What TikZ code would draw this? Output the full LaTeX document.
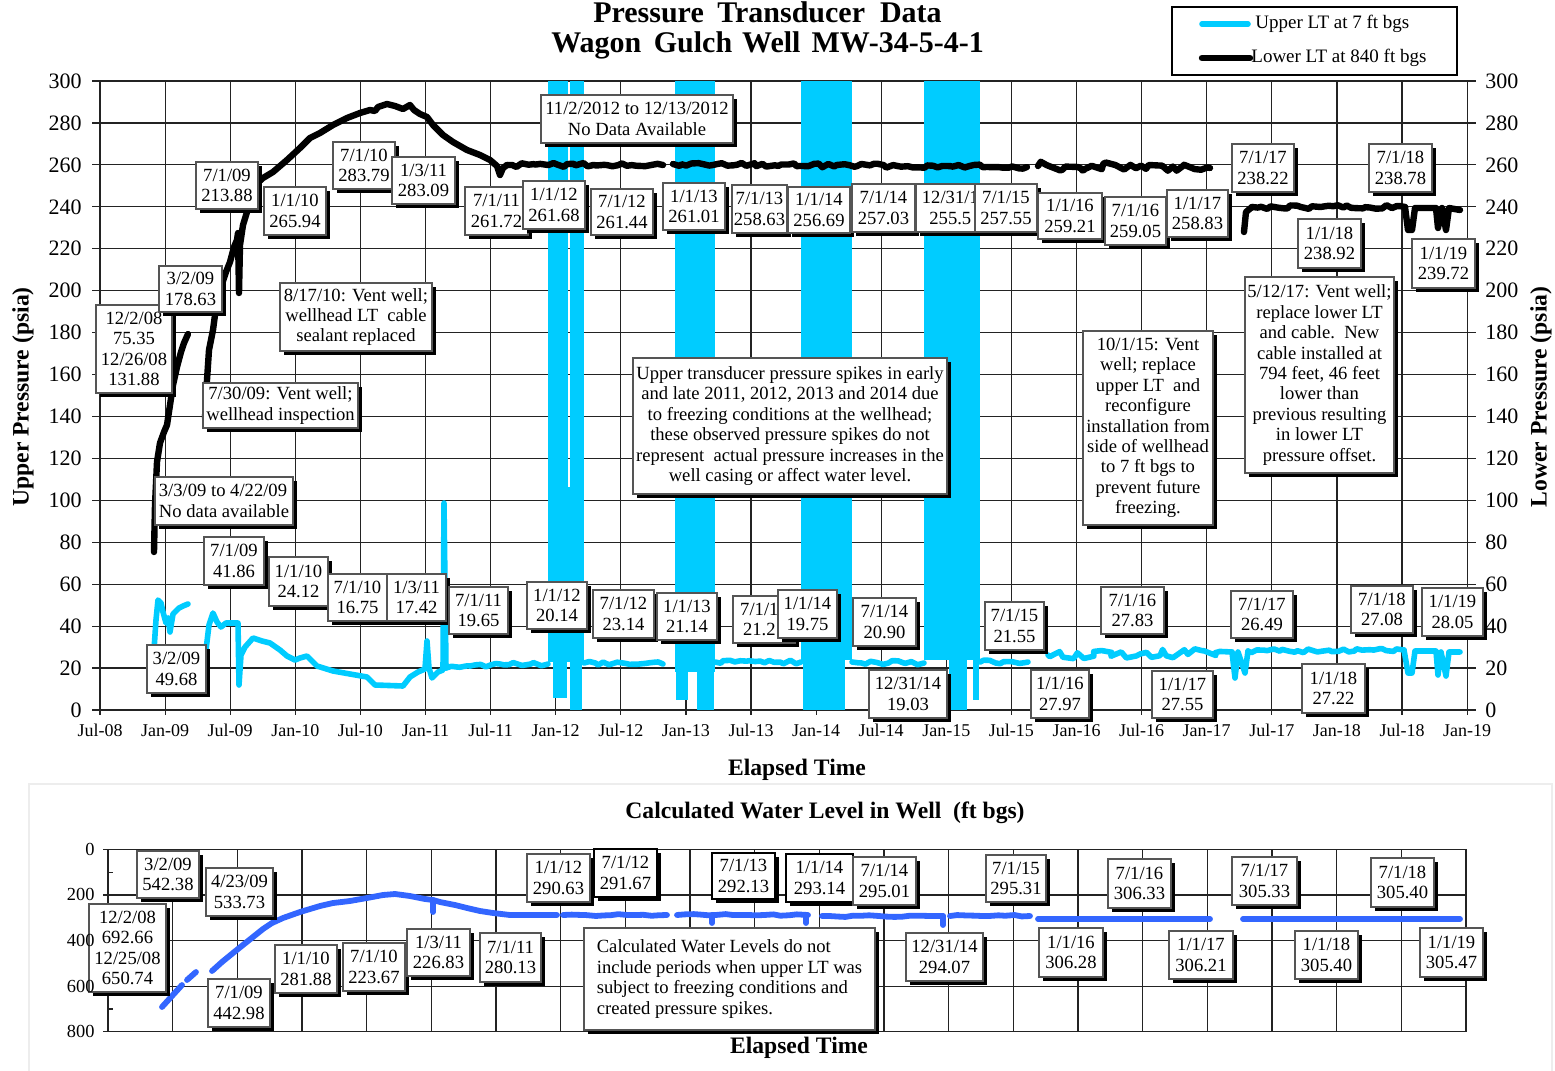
\documentclass[tikz,border=0pt]{standalone}
\usepackage{fontspec}
\setmainfont{Liberation Serif}
\usetikzlibrary{shadows,decorations.pathmorphing}
\definecolor{cyanl}{RGB}{0,204,255}
\definecolor{bluel}{RGB}{51,102,255}
\definecolor{gridc}{RGB}{35,35,35}
\definecolor{boxc}{RGB}{85,85,85}
\newcommand\lb[7][]{\node[lbox,#1,minimum width={(#5-#3)*0.5pt},minimum height={(#6-#4)*0.5pt}] (#2) at ({(#3+#5)/2},{(#4+#6)/2}) {#7};}
\begin{document}
\pgfmathsetseed{4242}
\begin{tikzpicture}[x=0.5pt,y=-0.5pt,
  gridl/.style={draw=gridc, line width=0.6pt},
  lbox/.style={draw=boxc, line width=0.7pt, fill=white, inner sep=0pt, align=center,
     font=\fontsize{9.3}{10.2}\selectfont,
     general shadow={fill=black, shadow xshift=2pt, shadow yshift=-2pt}},
  ytl/.style={font=\fontsize{11}{12}\selectfont, inner sep=0pt},
  ybl/.style={font=\fontsize{9.2}{10}\selectfont, inner sep=0pt, anchor=east},
  xtl/.style={font=\fontsize{9}{10}\selectfont, inner sep=0pt, anchor=base},
  ttl/.style={font=\fontsize{15}{17}\selectfont\bfseries, inner sep=0pt, anchor=base},
  atl/.style={font=\fontsize{11.8}{13}\selectfont\bfseries, inner sep=0pt, anchor=base},
  leg/.style={font=\fontsize{9.5}{11}\selectfont, inner sep=0pt, anchor=west},
  blk/.style={draw=black, line width=3.2pt, line cap=round, line join=round},
  cyn/.style={draw=cyanl, line width=2.8pt, line cap=round, line join=round},
  blu/.style={draw=bluel, line width=2.9pt, line cap=round, line join=round},
  rough/.style={decorate, decoration={random steps, segment length=2.5pt, amplitude=1pt}},
  smooth rough/.style={decorate, decoration={random steps, segment length=4pt, amplitude=0.5pt}},
  rougher/.style={decorate, decoration={random steps, segment length=3pt, amplitude=2.2pt}}]
\useasboundingbox (0,0) rectangle (1555,1071);
\fill[white] (0,0) rectangle (1555,1071);
% light frame of lower chart
\draw[draw=black!7, line width=0.8pt] (29,1071) -- (29,784) -- (1552,784) -- (1552,1071);

% ---------- upper chart grid ----------
\foreach \k in {0,...,21} \draw[gridl] ({100+65.1*\k},81) -- ({100+65.1*\k},715);
\foreach \v in {0,20,...,300} \draw[gridl] (92,{710-2.0967*\v}) -- (1476,{710-2.0967*\v});

% ---------- cyan spike bands ----------
\fill[cyanl] (548,81) rectangle (568,662);
\fill[cyanl] (570,81) rectangle (584,662);
\fill[cyanl] (567,487) rectangle (571,662);
\fill[cyanl] (553,662) rectangle (567,698);
\fill[cyanl] (570,662) rectangle (582,710);
\fill[cyanl] (675,81) rectangle (715,672);
\fill[cyanl] (676,672) rectangle (688,700);
\fill[cyanl] (697,672) rectangle (714,710);
\fill[cyanl] (801,81) rectangle (852,660);
\fill[cyanl] (803,660) rectangle (845,710);
\fill[cyanl] (924,81) rectangle (980,660);
\fill[cyanl] (949,660) rectangle (967,710);
\fill[cyanl] (973,660) rectangle (979,700);

% ---------- cyan (upper LT) line ----------
\draw[cyn] (154,650) -- (156,620) -- (158,600) -- (161,603) -- (163,612) -- (166,623) -- (168,618) -- (170,632) -- (173,614) -- (176,611) -- (179,608) -- (183,606) -- (188,604);
\draw[cyn] (206,650) -- (209,625) -- (213,613) -- (217,622) -- (221,627) -- (226,623) -- (238,623) -- (239,685) -- (241,655) -- (245,647) -- (253,638) -- (262,641) -- (270,643) -- (280,650) -- (287,656) -- (295,660) -- (300,658) -- (307,656) -- (317,666) -- (333,671) -- (350,674) -- (367,677) -- (375,685) -- (403,686) -- (410,677) -- (418,672) -- (425,669) -- (427,641) -- (429,668) -- (432,678) -- (438,672) -- (443,670) -- (444,503) -- (446,668);
\draw[cyn,rough] (446,668) -- (470,666) -- (500,664) -- (548,664);
\draw[cyn,rough] (584,663) -- (663,664);
\draw[cyn,rough] (715,662) -- (801,662);
\draw[cyn,rough] (852,662) -- (924,663);
\draw[cyn,rough] (980,662) -- (1028,662);
\draw[cyn,rougher] (1048,655) -- (1140,654) -- (1232,652);
\draw[cyn] (1232,652) -- (1235,678) -- (1238,652) -- (1245,673) -- (1248,651);
\draw[cyn,rough] (1248,651) -- (1404,650);
\draw[cyn] (1404,650) -- (1408,673) -- (1412,673) -- (1415,651) -- (1436,651) -- (1438,675) -- (1441,652) -- (1446,676) -- (1449,652) -- (1460,652);

% ---------- black (lower LT) line ----------
\draw[blk] (154,552) -- (155,505) -- (157,462) -- (160,443) -- (164,432) -- (167,425) -- (170,405) -- (173,385) -- (177,367) -- (181,352) -- (184,343) -- (188,334);
\draw[blk] (205,418) -- (207,380) -- (209,350) -- (213,330) -- (217,300) -- (221,287) -- (226,272) -- (230,262) -- (234,247) -- (237,240) -- (238,233) -- (239,293) -- (240,245) -- (243,225) -- (247,212) -- (250,200) -- (253,187) -- (263,178) -- (273,172) -- (287,160) -- (300,148) -- (310,138) -- (320,133) -- (333,125) -- (347,118) -- (360,113) -- (370,110) -- (375,111) -- (378,107) -- (387,104) -- (395,106) -- (403,109) -- (410,105) -- (414,110) -- (420,114) -- (427,117) -- (433,125) -- (443,135) -- (453,142) -- (467,150) -- (480,155) -- (490,160) -- (497,166) -- (500,175) -- (503,168) -- (507,165);
\draw[blk,rough] (507,165) -- (663,165);
\draw[blk,rough] (673,164) -- (1027,167);
\draw[blk,rougher] (1038,166) -- (1210,168);
\draw[blk] (1244,232) -- (1246,212) -- (1252,207);
\draw[blk,rough] (1252,207) -- (1405,207);
\draw[blk] (1405,207) -- (1408,230) -- (1412,230) -- (1415,208) -- (1436,208) -- (1438,228) -- (1442,208) -- (1446,230) -- (1449,208) -- (1460,210);

% ---------- upper chart tick labels ----------
\foreach \v in {0,20,...,300} {
  \node[ytl,anchor=east] (yl\v) at (82,{710-2.0967*\v}) {\v};
  \node[ytl,anchor=west] (yr\v) at (1485,{710-2.0967*\v}) {\v};
}
\foreach \k/\lab in {0/Jul-08,1/Jan-09,2/Jul-09,3/Jan-10,4/Jul-10,5/Jan-11,6/Jul-11,7/Jan-12,8/Jul-12,9/Jan-13,10/Jul-13,11/Jan-14,12/Jul-14,13/Jan-15,14/Jul-15,15/Jan-16,16/Jul-16,17/Jan-17,18/Jul-17,19/Jan-18,20/Jul-18,21/Jan-19}
  \node[xtl] (xt\k) at ({100+65.1*\k},736) {\lab};

% ---------- upper chart labels (lower LT) ----------
\lb{t1}{96}{305}{172}{393}{12/2/08\\75.35\\12/26/08\\131.88}
\lb{t2}{159}{266}{222}{312}{3/2/09\\178.63}
\lb{t3}{196}{162}{258}{209}{7/1/09\\213.88}
\lb{t4}{264}{187}{326}{235}{1/1/10\\265.94}
\lb{t5}{333}{142}{395}{189}{7/1/10\\283.79}
\lb{t6}{392}{157}{455}{204}{1/3/11\\283.09}
\lb{t7}{465}{187}{528}{235}{7/1/11\\261.72}
\lb{t8}{523}{181}{585}{229}{1/1/12\\261.68}
\lb{t9}{591}{189}{653}{235}{7/1/12\\261.44}
\lb{t10}{663}{183}{725}{230}{1/1/13\\261.01}
\lb{t11}{732}{185}{787}{233}{7/1/13\\258.63}
\lb{t12}{788}{187}{850}{233}{1/1/14\\256.69}
\lb{t13}{852}{184}{915}{232}{7/1/14\\257.03}
\lb{t14}{916}{184}{994}{232}{12/31/1\phantom{4}\\255.5\phantom{7}}
\lb{t15}{975}{184}{1037}{232}{7/1/15\\257.55}
\lb{t16}{1038}{193}{1102}{239}{1/1/16\\259.21}
\lb{t17}{1105}{197}{1166}{245}{7/1/16\\259.05}
\lb{t18}{1167}{190}{1228}{237}{1/1/17\\258.83}
\lb{t19}{1232}{144}{1294}{192}{7/1/17\\238.22}
\lb{t20}{1369}{144}{1432}{192}{7/1/18\\238.78}
\lb{t21}{1298}{219}{1361}{268}{1/1/18\\238.92}
\lb{t22}{1412}{239}{1475}{288}{1/1/19\\239.72}

% ---------- upper chart labels (upper LT) ----------
\lb{u1}{147}{645}{206}{693}{3/2/09\\49.68}
\lb{u2}{204}{537}{264}{585}{7/1/09\\41.86}
\lb{u3}{269}{557}{328}{606}{1/1/10\\24.12}
\lb{u4}{328}{574}{387}{621}{7/1/10\\16.75}
\lb{u5}{387}{574}{446}{621}{1/3/11\\17.42}
\lb{u6}{449}{587}{508}{634}{7/1/11\\19.65}
\lb{u7}{527}{582}{587}{629}{1/1/12\\20.14}
\lb{u8}{593}{590}{654}{638}{7/1/12\\23.14}
\lb{u9}{657}{593}{717}{640}{1/1/13\\21.14}
\lb{u10}{733}{596}{795}{643}{7/1/1\phantom{3}\\21.2\phantom{4}}
\lb{u11}{778}{590}{837}{638}{1/1/14\\19.75}
\lb{u12}{853}{598}{916}{646}{7/1/14\\20.90}
\lb{u13}{869}{670}{947}{718}{12/31/14\\19.03}
\lb{u14}{985}{602}{1044}{650}{7/1/15\\21.55}
\lb{u15}{1031}{670}{1089}{718}{1/1/16\\27.97}
\lb{u16}{1101}{587}{1164}{634}{7/1/16\\27.83}
\lb{u17}{1152}{671}{1213}{718}{1/1/17\\27.55}
\lb{u18}{1231}{591}{1293}{638}{7/1/17\\26.49}
\lb{u19}{1302}{664}{1365}{713}{1/1/18\\27.22}
\lb{u20}{1351}{586}{1413}{633}{7/1/18\\27.08}
\lb{u21}{1422}{588}{1483}{636}{1/1/19\\28.05}

% ---------- annotations ----------
\lb{nA}{541}{95}{733}{143}{11/2/2012 to 12/13/2012\\No Data Available}
\lb{nB}{280}{283}{432}{351}{8/17/10: Vent well;\\wellhead LT\ \ cable\\sealant replaced}
\lb{nC}{203}{383}{358}{428}{7/30/09: Vent well;\\wellhead inspection}
\lb[align=left]{nD}{155}{477}{293}{525}{3/3/09 to 4/22/09\\No data available}
\lb{nE}{633}{358}{947}{494}{Upper transducer pressure spikes in early\\and late 2011, 2012, 2013 and 2014 due\\to freezing conditions at the wellhead;\\these observed pressure spikes do not\\represent\ \ actual pressure increases in the\\well casing or affect water level.}
\lb{nF}{1083}{331}{1213}{525}{10/1/15: Vent\\well; replace\\upper LT\ \ and\\reconfigure\\installation from\\side of wellhead\\to 7 ft bgs to\\prevent future\\freezing.}
\lb{nG}{1245}{277}{1394}{473}{5/12/17: Vent well;\\replace lower LT\\and cable.\ \ New\\cable installed at\\794 feet, 46 feet\\lower than\\previous resulting\\in lower LT\\pressure offset.}

% ---------- legend ----------
\node[draw=black, line width=0.6pt, fill=white, minimum width=142.5pt, minimum height=34pt, inner sep=0pt] (legbox) at (1314.5,41) {};
\coordinate (lc1) at (1202,24);
\coordinate (lc2) at (1248,24);
\coordinate (lk1) at (1202,58);
\coordinate (lk2) at (1250,58);
\draw[cyn] (lc1) -- (lc2);
\draw[blk] (lk1) -- (lk2);
\node[leg] (legU) at (1255,24) {Upper LT at 7 ft bgs};
\node[leg] (legL) at (1251,58) {Lower LT at 840 ft bgs};

% ---------- titles ----------
\node[ttl] (title1) at (767.5,22) {Pressure\hspace{0.45em}Transducer\hspace{0.5em}Data};
\node[ttl] (title2) at (767.5,52) {Wagon\hspace{0.42em}Gulch\hspace{0.33em}Well\hspace{0.37em}MW-34-5-4-1};
\node[atl,rotate=90,anchor=center] (ylab) at (23,397) {Upper Pressure (psia)};
\node[atl,rotate=90,anchor=center] (yrab) at (1541,397) {Lower Pressure (psia)};
\node[atl] (xlab1) at (797,775) {Elapsed Time};
\node[atl] (title3) at (825,818) {Calculated Water Level in Well\ \ (ft bgs)};
\node[atl] (xlab2) at (799,1053) {Elapsed Time};

% ---------- lower chart ----------
\foreach \k in {0,...,21} \draw[gridl] ({108+64.67*\k},849.3) -- ({108+64.67*\k},1031.7);
\foreach \d in {0,200,...,800} \draw[gridl] (103,{849.3+0.228*\d}) -- (1466,{849.3+0.228*\d});
\draw[gridl] (108,872.1) -- (113,872.1);
\draw[gridl] (108,1008.9) -- (113,1008.9);

\draw[blu] (162,1007) -- (182,985);
\draw[blu] (187,980) -- (196,972);
\draw[blu] (212,971) -- (222,962) -- (233,953) -- (243,945) -- (253,937) -- (263,929) -- (272,923) -- (283,918) -- (300,912) -- (320,906) -- (333,903) -- (350,901) -- (367,898) -- (383,895) -- (395,894) -- (410,896) -- (425,899) -- (433,900) -- (440,902) -- (455,905) -- (467,908) -- (480,911) -- (493,913) -- (510,915) -- (557,915);
\draw[blu] (433,900) -- (433,912);
\draw[blu,smooth rough] (563,915) -- (667,915);
\draw[blu,smooth rough] (677,915) -- (808,915);
\draw[blu] (712,915) -- (712,923);
\draw[blu] (806,915) -- (806,923);
\draw[blu,smooth rough] (822,916) -- (943,916);
\draw[blu] (943,916) -- (943,925);
\draw[blu,smooth rough] (950,916) -- (1030,916);
\draw[blu] (1038,919) -- (1210,919);
\draw[blu] (1243,919) -- (1460,919);

\lb{w1}{89}{904}{166}{992}{12/2/08\\692.66\\12/25/08\\650.74}
\lb{w2}{137}{851}{199}{898}{3/2/09\\542.38}
\lb{w3}{206}{868}{273}{916}{4/23/09\\533.73}
\lb{w4}{208}{979}{270}{1027}{7/1/09\\442.98}
\lb{w5}{275}{945}{337}{993}{1/1/10\\281.88}
\lb{w6}{343}{943}{405}{991}{7/1/10\\223.67}
\lb{w7}{407}{929}{470}{976}{1/3/11\\226.83}
\lb{w8}{480}{933}{541}{982}{7/1/11\\280.13}
\lb{w9}{527}{854}{590}{902}{1/1/12\\290.63}
\lb[draw=black,line width=1pt]{w10}{594}{849}{657}{897}{7/1/12\\291.67}
\lb[draw=black,line width=1pt]{w11}{712}{853}{775}{899}{7/1/13\\292.13}
\lb[draw=black,line width=1pt]{w12}{786}{854}{853}{902}{1/1/14\\293.14}
\lb{w13}{853}{857}{916}{905}{7/1/14\\295.01}
\lb[align=left]{w14}{584}{928}{875}{1030}{Calculated Water Levels do not\\include periods when upper LT was\\subject to freezing conditions and\\created pressure spikes.}
\lb{w15}{906}{933}{983}{981}{12/31/14\\294.07}
\lb{w16}{986}{855}{1046}{902}{7/1/15\\295.31}
\lb{w17}{1039}{928}{1103}{977}{1/1/16\\306.28}
\lb{w18}{1108}{859}{1171}{908}{7/1/16\\306.33}
\lb{w19}{1169}{931}{1233}{979}{1/1/17\\306.21}
\lb{w20}{1232}{857}{1297}{905}{7/1/17\\305.33}
\lb{w21}{1295}{931}{1358}{979}{1/1/18\\305.40}
\lb{w22}{1371}{858}{1434}{907}{7/1/18\\305.40}
\lb{w23}{1420}{928}{1483}{977}{1/1/19\\305.47}

\foreach \d in {0,200,...,800} \node[ybl] (wl\d) at (95,{849.3+0.228*\d}) {\d};
\end{tikzpicture}
\end{document}
